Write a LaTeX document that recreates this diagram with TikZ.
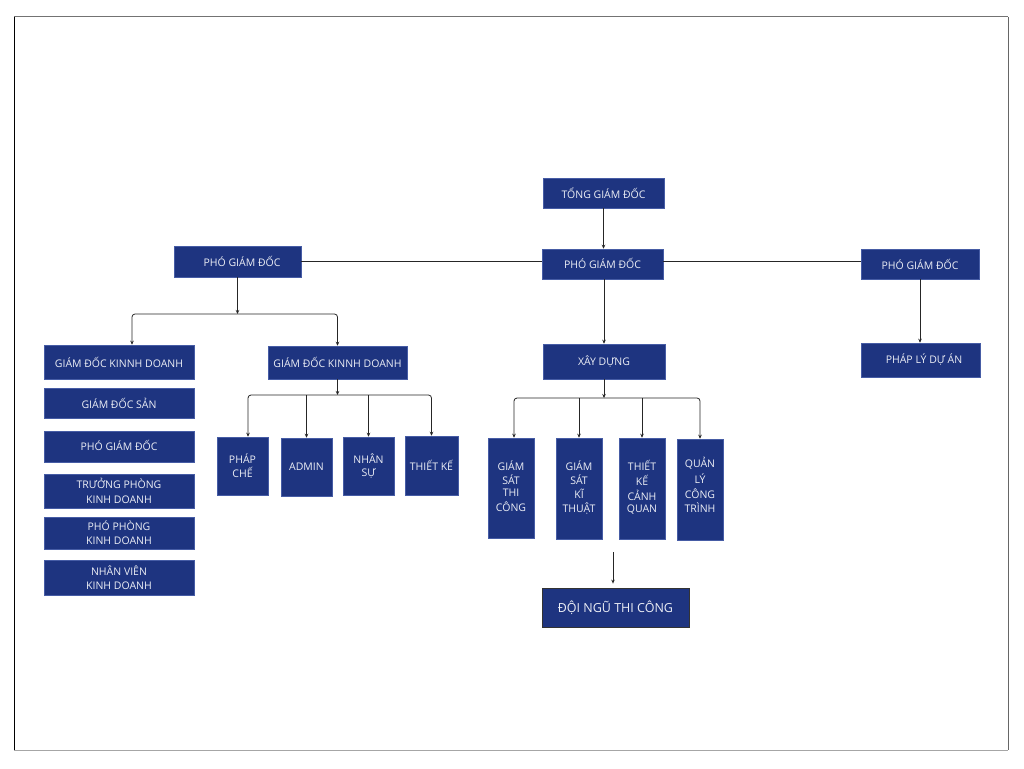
\documentclass[tikz,border=0pt]{standalone}
\usepackage{fontspec}
\setmainfont{Open Sans}
\usetikzlibrary{arrows.meta}
\definecolor{navy}{RGB}{30,52,128}
\definecolor{navyedge}{RGB}{70,92,165}
\definecolor{txt}{RGB}{236,238,245}
\begin{document}
\begin{tikzpicture}[x=1pt,y=-1pt,
  box/.style={fill=navy, draw=navyedge, line width=0.5pt, text=txt, inner sep=0pt, align=center, font=\fontsize{10.5}{14.3}\selectfont},
  conn/.style={draw=black!85, line width=0.8pt},
  arr/.style={conn, -{Stealth[length=4pt,width=3.5pt]}},
  rc/.style={rounded corners=3pt}]
\useasboundingbox (0,0) rectangle (1024,768);
\fill[white] (0,0) rectangle (1024,768);
% frame
\draw[line width=1pt, black] (14,17) -- (14,750);
\draw[line width=1pt, black!55] (14,17) -- (1008,17);
\draw[line width=1pt, black!60] (1008,17) -- (1008,750);
\draw[line width=1pt, black!35] (14,750) -- (1008,750);

% top level
\node[box, minimum width=121pt, minimum height=30pt] (tgd) at (603.5,193) {TỔNG GIÁM ĐỐC};
\node[box, minimum width=121pt, minimum height=30pt] (pgdc) at (602.5,264) {\raisebox{1.5pt}{PHÓ GIÁM ĐỐC}};
\node[box, minimum width=118pt, minimum height=30pt] (pgdr) at (920,264) {PHÓ GIÁM ĐỐC};
\node[box, minimum width=127pt, minimum height=31pt] (pgdl) at (237.5,261.5) {\hspace*{9pt}PHÓ GIÁM ĐỐC};
\node[box, minimum width=122pt, minimum height=35pt] (xd) at (604,361.5) {XÂY DỰNG};
\node[box, minimum width=119pt, minimum height=34pt] (plda) at (920.5,360) {\hspace*{7pt}PHÁP LÝ DỰ ÁN};

% left column
\node[box, minimum width=150pt, minimum height=34pt] (gdkd1) at (119,362) {GIÁM ĐỐC KINNH DOANH};
\node[box, minimum width=150pt, minimum height=30pt] (gds) at (119,403) {GIÁM ĐỐC SẢN};
\node[box, minimum width=150pt, minimum height=31pt] (pgd2) at (119,446.5) {\raisebox{2pt}{PHÓ GIÁM ĐỐC}};
\node[box, minimum width=150pt, minimum height=34pt] (tp) at (119,491) {TRƯỞNG PHÒNG\\KINH DOANH};
\node[box, minimum width=150pt, minimum height=32pt] (pp) at (119,533) {PHÓ PHÒNG\\KINH DOANH};
\node[box, minimum width=150pt, minimum height=35pt] (nv) at (119,577.5) {NHÂN VIÊN\\KINH DOANH};

% second branch
\node[box, minimum width=139pt, minimum height=33pt] (gdkd2) at (337.5,362.5) {GIÁM ĐỐC KINNH DOANH};
\node[box, minimum width=51pt, minimum height=58pt] (phc) at (242.5,466) {PHÁP\\CHẾ};
\node[box, minimum width=51pt, minimum height=58pt] (adm) at (306.5,467) {ADMIN};
\node[box, minimum width=51pt, minimum height=58pt] (ns) at (368.5,466) {\raisebox{-3pt}{\shortstack{NHÂN\\[2pt]SỰ}}};
\node[box, minimum width=53pt, minimum height=59pt] (tk) at (431.5,465.5) {THIẾT KẾ};

% construction branch
\node[box, minimum width=46pt, minimum height=100pt] (gstc) at (511,488) {\raisebox{4pt}{\shortstack{GIÁM\\[1.5pt]SÁT\\[1.5pt]THI\\[1.5pt]CÔNG}}};
\node[box, minimum width=46pt, minimum height=101pt] (gskt) at (579,488.5) {\raisebox{4pt}{\shortstack{GIÁM\\[1.5pt]SÁT\\[1.5pt]KĨ\\[1.5pt]THUẬT}}};
\node[box, minimum width=46pt, minimum height=101pt] (tkcq) at (642,488.5) {\raisebox{4pt}{\shortstack{THIẾT\\[1.5pt]KẾ\\[1.5pt]CẢNH\\[1.5pt]QUAN}}};
\node[box, minimum width=46pt, minimum height=101pt] (qlct) at (700,489.5) {\raisebox{9pt}{\shortstack{QUẢN\\[1.5pt]LÝ\\[1.5pt]CÔNG\\[1.5pt]TRÌNH}}};
\node[box, draw=black!80, line width=0.8pt, minimum width=147pt, minimum height=39pt, font=\fontsize{12.5}{15}\selectfont] (dntc) at (615.5,607.5) {ĐỘI NGŨ THI CÔNG};

% connectors: top
\draw[arr] (tgd.south) -- (tgd.south |- pgdc.north);
\draw[conn] (pgdl.east) -- (pgdl.east -| pgdc.west);
\draw[conn] (pgdc.east |- pgdl.east) -- (pgdl.east -| pgdr.west);
\draw[arr] (pgdc.south -| xd.north) -- (xd.north);
\draw[arr] (pgdr.south) -- (pgdr.south |- plda.north);

% left tree
\coordinate (j1) at (237.5,314);
\draw[arr] (pgdl.south) -- (j1);
\draw[arr, rc] (j1) -| ([xshift=13pt]gdkd1.north);
\draw[arr, rc] (j1) -| (gdkd2.north);

% second tree
\coordinate (j2) at (337.5,395);
\draw[arr] (gdkd2.south) -- (j2);
\draw[arr, rc] (j2) -| ([xshift=5.5pt]phc.north);
\draw[arr] (j2 -| adm.north) -- (adm.north);
\draw[arr] (j2 -| ns.north) -- (ns.north);
\draw[arr, rc] (j2) -| (tk.north);

% construction tree
\coordinate (j3) at (604,398);
\draw[arr] (xd.south) -- (j3);
\draw[arr, rc] (j3) -| ([xshift=3pt]gstc.north);
\draw[arr] (j3 -| gskt.north) -- (gskt.north);
\draw[arr] (j3 -| tkcq.north) -- (tkcq.north);
\draw[arr, rc] (j3) -| (qlct.north);

% free arrow
\coordinate (fa) at (613,552);
\draw[arr] (fa) -- ([yshift=4pt]fa |- dntc.north);
\end{tikzpicture}
\end{document}
